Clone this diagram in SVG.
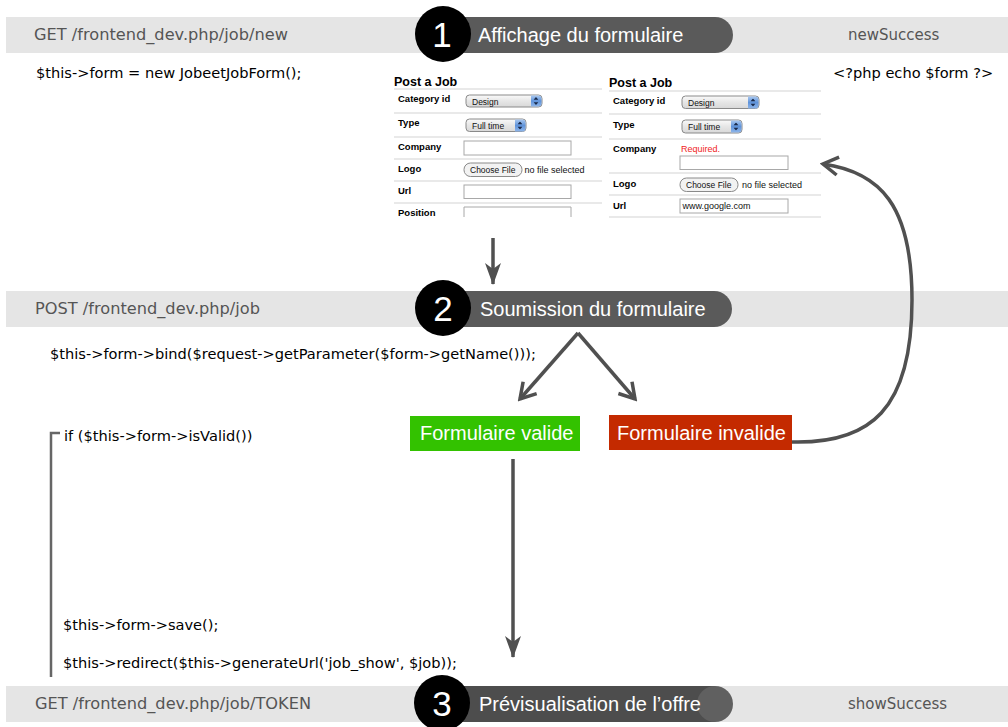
<svg xmlns="http://www.w3.org/2000/svg" width="1008" height="727" viewBox="0 0 1008 727">
<defs>
<style>
.band{fill:#e5e5e5}
.pill{fill:#5a5a5a}
.circ{fill:#000}
.num{font-family:"Liberation Sans",Arial,sans-serif;font-size:35px;fill:#fff;text-anchor:middle}
.ptxt{font-family:"Liberation Sans",Arial,sans-serif;font-size:20px;fill:#fff}
.btxt{font-family:"DejaVu Sans",Verdana,sans-serif;font-size:16.2px;fill:#555}
.stxt{font-family:"DejaVu Sans",Verdana,sans-serif;font-size:15px;fill:#555}
.code{font-family:"DejaVu Sans",Verdana,sans-serif;font-size:14.6px;fill:#000}
.ftitle{font-family:"Liberation Sans",Arial,sans-serif;font-size:12.5px;font-weight:bold;fill:#000}
.flab{font-family:"Liberation Sans",Arial,sans-serif;font-size:9.5px;font-weight:bold;fill:#000}
.fval{font-family:"Liberation Sans",Arial,sans-serif;font-size:8.5px;fill:#111}
.fsep{stroke:#e2e2e2;stroke-width:1.5}
.inp{fill:#fff;stroke:#a8a8a8;stroke-width:1}
.btn{fill:#f2f2f2;stroke:#8a8a8a;stroke-width:1}
.sel{fill:url(#selg);stroke:#8a8a8a;stroke-width:1}
.selb{fill:url(#selblue)}
.conn{fill:none;stroke:#505050;stroke-width:3.5}
.boxt{font-family:"Liberation Sans",Arial,sans-serif;font-size:20px;fill:#fff}
</style>
<linearGradient id="selg" x1="0" y1="0" x2="0" y2="1">
<stop offset="0" stop-color="#fafafa"/><stop offset="0.5" stop-color="#e6e6e6"/><stop offset="1" stop-color="#d8d8d8"/>
</linearGradient>
<linearGradient id="selblue" x1="0" y1="0" x2="0" y2="1">
<stop offset="0" stop-color="#a9c8f0"/><stop offset="0.5" stop-color="#5f93da"/><stop offset="1" stop-color="#8fb6ea"/>
</linearGradient>
<marker id="hFill" markerUnits="userSpaceOnUse" viewBox="0 0 22 16" refX="21" refY="8" markerWidth="22" markerHeight="16" orient="auto">
<path d="M0,0 L22,8 L0,16 L6,8 z" fill="#505050"/>
</marker>
<marker id="hOpen" markerUnits="userSpaceOnUse" viewBox="-2 -2 20 22" refX="15" refY="9" markerWidth="20" markerHeight="22" orient="auto">
<path d="M0,0 L15,9 L0,18" fill="none" stroke="#505050" stroke-width="3.5" stroke-linejoin="miter"/>
</marker>
<symbol id="updown" viewBox="0 0 6 10"><path d="M3,0 L6,3.5 H0 z M3,10 L6,6.5 H0 z" fill="#1a2a4a"/></symbol>
</defs>
<rect width="1008" height="727" fill="#fff"/>

<g id="step1">
<rect class="band" x="6" y="17" width="1002" height="36"/>
<text class="btxt" x="34" y="40">GET /frontend_dev.php/job/new</text>
<path class="pill" d="M443,17 H715 A18,18 0 0 1 715,53 H443 z"/>
<circle class="circ" cx="443" cy="34" r="28"/>
<text class="num" x="442" y="46.5">1</text>
<text class="ptxt" x="478" y="42">Affichage du formulaire</text>
<text class="stxt" x="848" y="40">newSuccess</text>
</g>

<g id="code1">
<text class="code" x="36" y="78">$this-&gt;form = new JobeetJobForm();</text>
<text class="code" x="833" y="78">&lt;?php echo $form ?&gt;</text>
</g>

<g id="form-empty">
<text class="ftitle" x="394" y="86">Post a Job</text>
<line class="fsep" x1="394" y1="89" x2="602" y2="89"/>
<text class="flab" x="398" y="102">Category id</text>
<rect class="sel" x="466" y="95" width="76" height="12" rx="3.5"/>
<path class="selb" d="M531,95.5 H538.5 A3,3 0 0 1 541.5,98.5 V103.5 A3,3 0 0 1 538.5,106.5 H531 z"/>
<use href="#updown" x="533.5" y="97" width="5" height="8"/>
<text class="fval" x="472" y="104.5">Design</text>
<line class="fsep" x1="394" y1="113" x2="602" y2="113"/>
<text class="flab" x="398" y="126">Type</text>
<rect class="sel" x="466" y="119" width="60" height="12.5" rx="3.5"/>
<path class="selb" d="M515,119.5 H522.5 A3,3 0 0 1 525.5,122.5 V128.5 A3,3 0 0 1 522.5,131.5 H515 z"/>
<use href="#updown" x="517.5" y="121.5" width="5" height="8"/>
<text class="fval" x="472" y="128.5">Full time</text>
<line class="fsep" x1="394" y1="137" x2="602" y2="137"/>
<text class="flab" x="398" y="150">Company</text>
<rect class="inp" x="464" y="141" width="107" height="14"/>
<line class="fsep" x1="394" y1="159" x2="602" y2="159"/>
<text class="flab" x="398" y="172">Logo</text>
<rect class="btn" x="464" y="163" width="58" height="13.5" rx="6.5"/>
<text class="fval" x="470" y="173">Choose File</text>
<text class="fval" x="524.5" y="173" style="font-size:9px">no file selected</text>
<line class="fsep" x1="394" y1="181" x2="602" y2="181"/>
<text class="flab" x="398" y="194">Url</text>
<rect class="inp" x="464" y="185" width="107" height="13.5"/>
<line class="fsep" x1="394" y1="203" x2="602" y2="203"/>
<text class="flab" x="398" y="216">Position</text>
<path d="M464,217 V207 H571 V217" fill="#fff" stroke="#a8a8a8" stroke-width="1"/>
</g>

<g id="form-error">
<text class="ftitle" x="609" y="87">Post a Job</text>
<line class="fsep" x1="609" y1="91" x2="821" y2="91"/>
<text class="flab" x="613" y="104">Category id</text>
<rect class="sel" x="682" y="96" width="77" height="12.5" rx="3.5"/>
<path class="selb" d="M748,96.5 H755.5 A3,3 0 0 1 758.5,99.5 V105.5 A3,3 0 0 1 755.5,108.5 H748 z"/>
<use href="#updown" x="750.5" y="98.5" width="5" height="8"/>
<text class="fval" x="688" y="106">Design</text>
<line class="fsep" x1="609" y1="114" x2="821" y2="114"/>
<text class="flab" x="613" y="128">Type</text>
<rect class="sel" x="682" y="120" width="60" height="13" rx="3.5"/>
<path class="selb" d="M731,120.5 H738.5 A3,3 0 0 1 741.5,123.5 V129.5 A3,3 0 0 1 738.5,132.5 H731 z"/>
<use href="#updown" x="733.5" y="122.5" width="5" height="8"/>
<text class="fval" x="688" y="130">Full time</text>
<line class="fsep" x1="609" y1="139" x2="821" y2="139"/>
<text class="flab" x="613" y="152">Company</text>
<text class="fval" x="681" y="152" style="fill:#f01c1c;font-size:9px">Required.</text>
<rect class="inp" x="680" y="156" width="108" height="13.5"/>
<line class="fsep" x1="609" y1="173" x2="821" y2="173"/>
<text class="flab" x="613" y="187">Logo</text>
<rect class="btn" x="680" y="178" width="58" height="13.5" rx="6.5"/>
<text class="fval" x="686" y="188">Choose File</text>
<text class="fval" x="742" y="188" style="font-size:9px">no file selected</text>
<line class="fsep" x1="609" y1="195" x2="821" y2="195"/>
<text class="flab" x="613" y="209">Url</text>
<rect class="inp" x="680" y="199" width="108" height="14"/>
<text class="fval" x="682.5" y="209" style="font-size:9px">www.google.com</text>
<line class="fsep" x1="609" y1="217" x2="821" y2="217"/>
</g>

<g id="step2">
<rect class="band" x="6" y="291" width="1002" height="36"/>
<text class="btxt" x="35" y="314">POST /frontend_dev.php/job</text>
<path class="pill" d="M443,291 H714 A18,18 0 0 1 714,327 H443 z"/>
<circle class="circ" cx="443" cy="308" r="28"/>
<text class="num" x="443" y="320.5">2</text>
<text class="ptxt" x="480" y="316">Soumission du formulaire</text>
</g>

<g id="code2">
<text class="code" x="50" y="359">$this-&gt;form-&gt;bind($request-&gt;getParameter($form-&gt;getName()));</text>
<text class="code" x="64" y="441">if ($this-&gt;form-&gt;isValid())</text>
<text class="code" x="63" y="630">$this-&gt;form-&gt;save();</text>
<text class="code" x="63" y="668">$this-&gt;redirect($this-&gt;generateUrl('job_show', $job));</text>
<path d="M60,433 H51 V677" fill="none" stroke="#666" stroke-width="2.5"/>
</g>

<g id="valid">
<rect x="410" y="416" width="170" height="35" fill="#33c200"/>
<text class="boxt" x="420" y="440">Formulaire valide</text>
</g>

<g id="invalid">
<rect x="609" y="415" width="183" height="35" fill="#c42a00"/>
<text class="boxt" x="617" y="440">Formulaire invalide</text>
</g>

<g id="step3">
<rect class="band" x="6" y="686" width="1002" height="36"/>
<text class="btxt" x="35" y="709">GET /frontend_dev.php/job/TOKEN</text>
<rect x="441" y="686" width="274" height="36" fill="#4d4d4d"/>
<circle cx="715" cy="704" r="18" fill="#606060"/>
<circle class="circ" cx="442" cy="703" r="28"/>
<text class="num" x="442" y="715.5">3</text>
<text class="ptxt" x="479" y="711">Prévisualisation de l’offre</text>
<text class="stxt" x="848" y="709">showSuccess</text>
</g>

<g id="connectors">
<line class="conn" x1="493" y1="238" x2="493" y2="284" marker-end="url(#hFill)"/>
<line class="conn" x1="578" y1="333" x2="520" y2="399" marker-end="url(#hOpen)"/>
<line class="conn" x1="578" y1="333" x2="635" y2="399" marker-end="url(#hOpen)"/>
<line class="conn" x1="513" y1="459" x2="513" y2="657" marker-end="url(#hFill)"/>
<path class="conn" d="M792,442 C870,444 912,410 912,300 C912,205 880,172 823,164" marker-end="url(#hOpen)"/>
</g>
</svg>
